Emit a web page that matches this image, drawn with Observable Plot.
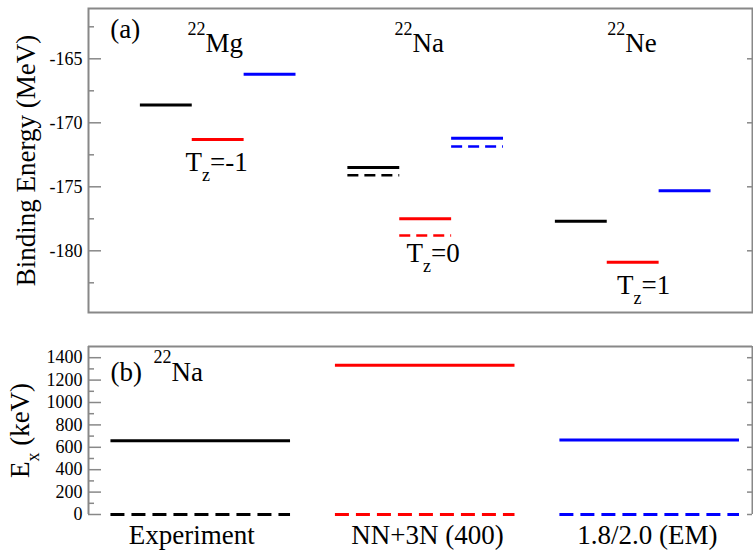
<!DOCTYPE html>
<html><head><meta charset="utf-8">
<script src="https://cdn.jsdelivr.net/npm/d3@7"></script>
<script src="https://cdn.jsdelivr.net/npm/@observablehq/plot@0.6"></script>
<style>
body{margin:0;background:#fff;}
#chart{width:753px;}
#chart svg{display:block;}
#chart svg, #chart svg text, #chart svg tspan { font-family: "Liberation Serif", "Times New Roman", Times, "DejaVu Serif", serif !important; }
</style></head><body><div id="chart"></div>
<script>
// ---------------- data ----------------
const isotopes = ["Mg", "Na", "Ne"];
const methods = ["Experiment", "NN+3N (400)", "1.8/2.0 (EM)"];
const methodColors = ["#000000", "#ff0000", "#0000ff"];
// (a) binding energies (MeV), one value per method
const bindingMg = [-168.6, -171.3, -166.2];
const bindingNa = [-173.5, -177.5, -171.2];
const bindingNe = [-177.7, -180.9, -175.3];
const bindingNaDashed = [-174.1, -178.8, -171.85];
// (b) 22Na excitation energies (keV)
const excitedSolid = [658, 1332, 665];
const excitedDashed = [0, 0, 0];
// ticks
const topTicks = [-165, -170, -175, -180];
const topMinorTicks = [-162.5, -167.5, -172.5, -177.5, -182.5];
const bottomTicks = [0, 200, 400, 600, 800, 1000, 1200, 1400];
const bottomMinorTicks = [100, 300, 500, 700, 900, 1100, 1300];
// annotation texts (x in level slots, y in data units)
const topLabels = ["(a)", "^{22}Mg", "^{22}Na", "^{22}Ne", "T_{z}=-1", "T_{z}=0", "T_{z}=1"];
const topLabelX = [0.42, 1.91, 5.9, 10.0, 1.87, 6.13, 10.19];
const topLabelY = [-163.35, -164.5, -164.5, -164.5, -173.73, -180.91, -183.36];
const bottomLabels = ["(b)", "^{22}Na"];
const bottomLabelX = [0.098, 0.29];
const bottomLabelY = [1196, 1196];
const methodLabelX = [0.46, 1.51, 2.49];

// ---------------- derived tables ----------------
const bindingRows = [bindingMg, bindingNa, bindingNe];
const topSolid = [], topDashed = [];
bindingRows.forEach((row, i) => row.forEach((v, j) => {
  topSolid.push({iso: isotopes[i], method: j, x1: 4 * i + j + 1, x2: 4 * i + j + 2, y: v});
}));
bindingNaDashed.forEach((v, j) => topDashed.push({method: j, x1: 4 + j + 1, x2: 4 + j + 2, y: v}));
const botSolid = excitedSolid.map((v, j) => ({method: j, x1: j + 0.1, x2: j + 0.9, y: v}));
const botDashed = excitedDashed.map((v, j) => ({method: j, x1: j + 0.1, x2: j + 0.9, y: v}));

const FONT = '"Liberation Serif", "Times New Roman", Times, "DejaVu Serif", serif';
const BIG = 27, SMALL = 18;
const frameColor = "#888";
const W = 753, ML = 88, MR = 1;
const plotW = W - ML - MR;

function richText(svg) {
  svg.querySelectorAll("text").forEach(t => {
    t.style.setProperty("font-family", FONT, "important");
    const s = t.textContent;
    if (!/[\^_]\{/.test(s)) return;
    const parts = s.split(/([\^_]\{[^}]*\})/).filter(p => p.length);
    t.textContent = "";
    let shift = 0;
    for (const p of parts) {
      const ts = document.createElementNS("http://www.w3.org/2000/svg", "tspan");
      let target = 0, size = null, content = p;
      if (p.startsWith("^{")) { target = -0.65 * BIG; size = SMALL; content = p.slice(2, -1); }
      else if (p.startsWith("_{")) { target = 0.37 * BIG; size = SMALL; content = p.slice(2, -1); }
      ts.setAttribute("dy", (target - shift).toFixed(1));
      shift = target;
      if (size) ts.setAttribute("font-size", size);
      ts.textContent = content;
      t.appendChild(ts);
    }
  });
}

const txt = {fontSize: BIG, fill: "#000"};

// ---------------- top panel ----------------
const panelA = Plot.plot({
  width: W, height: 330,
  marginLeft: ML, marginRight: MR, marginTop: 8, marginBottom: 18,
  style: {fontSize: "18px", background: "#fff", color: "#000"},
  x: {domain: [0, 12.8], axis: null},
  y: {domain: [-184.82, -161.07]},
  marks: [
    Plot.frame({stroke: frameColor, strokeWidth: 2}),
    Plot.tickY(topTicks, {y: d => d, stroke: frameColor, strokeWidth: 1.5, insetRight: plotW - 13}),
    Plot.tickY(topMinorTicks, {y: d => d, stroke: frameColor, strokeWidth: 1.5, insetRight: plotW - 6}),
    Plot.tickY(topTicks, {y: d => d, stroke: frameColor, strokeWidth: 1.5, insetLeft: plotW - 5}),
    Plot.axisY({ticks: topTicks, tickSize: 0, tickPadding: 6, tickFormat: d => String(d), label: null, fontSize: 18}),
    Plot.text(["Binding Energy (MeV)"], {frameAnchor: "left", rotate: -90, dx: 34 - ML, textAnchor: "middle", lineAnchor: "bottom", ...txt}),
    Plot.ruleY(topSolid, {y: "y", x1: "x1", x2: "x2", stroke: d => methodColors[d.method], strokeWidth: 3}),
    Plot.ruleY(topDashed, {y: "y", x1: "x1", x2: "x2", stroke: d => methodColors[d.method], strokeWidth: 2.5, strokeDasharray: "11,6"}),
    Plot.text(topLabels, {x: (d, i) => topLabelX[i], y: (d, i) => topLabelY[i], text: d => d, textAnchor: "start", lineAnchor: "bottom", ...txt})
  ]
});

// ---------------- bottom panel ----------------
const panelB = Plot.plot({
  width: W, height: 223,
  marginLeft: ML, marginRight: MR, marginTop: 16, marginBottom: 39,
  style: {fontSize: "18px", background: "#fff", color: "#000"},
  x: {domain: [0, 2.958], axis: null},
  y: {domain: [0, 1500]},
  marks: [
    Plot.ruleY([1500], {stroke: frameColor, strokeWidth: 2}),
    Plot.ruleX([0], {stroke: frameColor, strokeWidth: 2}),
    Plot.ruleX([2.958], {stroke: frameColor, strokeWidth: 2}),
    Plot.tickY(bottomTicks, {y: d => d, stroke: frameColor, strokeWidth: 1.5, insetRight: plotW - 13}),
    Plot.tickY(bottomMinorTicks, {y: d => d, stroke: frameColor, strokeWidth: 1.5, insetRight: plotW - 6}),
    Plot.tickY(bottomTicks, {y: d => d, stroke: frameColor, strokeWidth: 1.5, insetLeft: plotW - 5}),
    Plot.axisY({ticks: bottomTicks, tickSize: 0, tickPadding: 6, tickFormat: d => String(d), label: null, fontSize: 18}),
    Plot.text(["E_{x} (keV)"], {frameAnchor: "left", rotate: -90, dx: 28 - ML, textAnchor: "middle", lineAnchor: "bottom", ...txt}),
    Plot.ruleY(botSolid, {y: "y", x1: "x1", x2: "x2", stroke: d => methodColors[d.method], strokeWidth: 3}),
    Plot.ruleY(botDashed, {y: "y", x1: "x1", x2: "x2", stroke: d => methodColors[d.method], strokeWidth: 3, strokeDasharray: "14,7"}),
    Plot.text(bottomLabels, {x: (d, i) => bottomLabelX[i], y: (d, i) => bottomLabelY[i], text: d => d, textAnchor: "start", lineAnchor: "bottom", ...txt}),
    Plot.text(methods, {x: (d, i) => methodLabelX[i], frameAnchor: "bottom", dy: 29, lineAnchor: "bottom", text: d => d, ...txt})
  ]
});

richText(panelA);
richText(panelB);
document.getElementById("chart").append(panelA, panelB);
</script></body></html>
